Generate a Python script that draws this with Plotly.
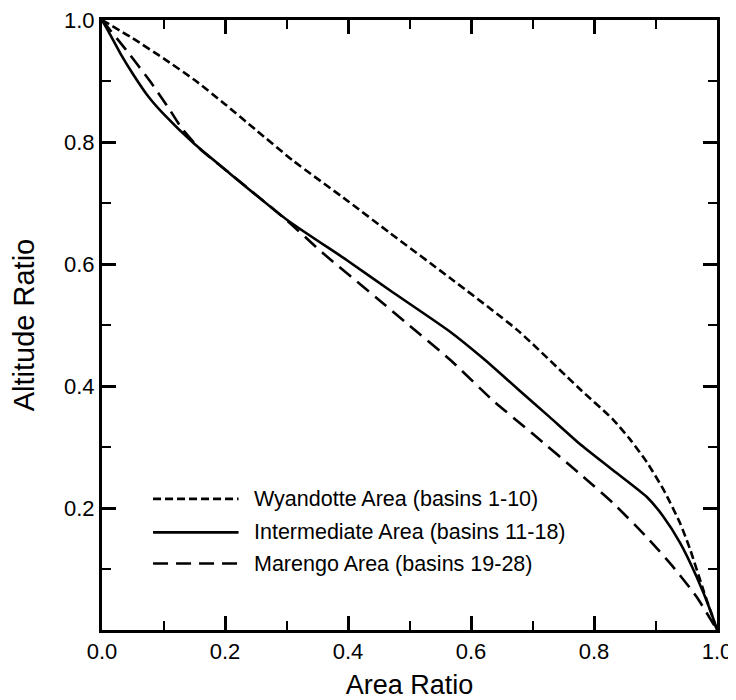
import plotly.graph_objects as go

# Wyandotte Area (basins 1-10)
wy_x = [0.0, 0.05, 0.10, 0.15, 0.20, 0.25, 0.31, 0.40, 0.468, 0.566, 0.675, 0.777, 0.831, 0.859, 0.886, 0.913, 0.940, 0.956, 0.978, 1.0]
wy_y = [1.0, 0.970, 0.937, 0.902, 0.862, 0.820, 0.770, 0.703, 0.651, 0.577, 0.492, 0.395, 0.345, 0.312, 0.275, 0.230, 0.175, 0.133, 0.065, 0.0]

# Intermediate Area (basins 11-18)
im_x = [0.0, 0.01, 0.03, 0.05, 0.075, 0.10, 0.15, 0.20, 0.30, 0.40, 0.468, 0.566, 0.62, 0.675, 0.728, 0.777, 0.831, 0.886, 0.912, 0.94, 0.967, 0.99, 1.0]
im_y = [1.0, 0.982, 0.945, 0.912, 0.875, 0.846, 0.797, 0.755, 0.673, 0.605, 0.557, 0.489, 0.445, 0.396, 0.349, 0.305, 0.262, 0.218, 0.187, 0.143, 0.087, 0.030, 0.0]

# Marengo Area (basins 19-28)
mr_x = [0.0, 0.04, 0.08, 0.11, 0.13, 0.16, 0.20, 0.30, 0.359, 0.447, 0.50, 0.566, 0.636, 0.70, 0.777, 0.831, 0.886, 0.929, 0.967, 1.0]
mr_y = [1.0, 0.950, 0.897, 0.853, 0.822, 0.788, 0.755, 0.672, 0.618, 0.544, 0.499, 0.443, 0.376, 0.322, 0.256, 0.208, 0.152, 0.103, 0.054, 0.0]

series_names = ["Wyandotte Area (basins 1-10)", "Intermediate Area (basins 11-18)", "Marengo Area (basins 19-28)"]
dashes = ["8px,4px", "solid", "15px,8px"]

x_tickvals = [0.0, 0.2, 0.4, 0.6, 0.8, 1.0]
x_ticktext = ["0.0", "0.2", "0.4", "0.6", "0.8", "1.0"]
y_tickvals = [0.2, 0.4, 0.6, 0.8, 1.0]
y_ticktext = ["0.2", "0.4", "0.6", "0.8", "1.0"]

FONT = "Liberation Sans, Arial, sans-serif"

fig = go.Figure()
for xs, ys, name, dash in zip([wy_x, im_x, mr_x], [wy_y, im_y, mr_y], series_names, dashes):
    fig.add_trace(go.Scatter(x=xs, y=ys, mode="lines", name=name,
                             line=dict(color="black", width=2.6, dash=dash, shape="spline", smoothing=0.6),
                             showlegend=False))

# custom legend with long line samples
leg_y = [0.215, 0.160, 0.109]
for name, dash, ly in zip(series_names, dashes, leg_y):
    fig.add_shape(type="line", xref="x", yref="y", x0=0.083, x1=0.222, y0=ly, y1=ly,
                  line=dict(color="black", width=2.6, dash=dash))
    fig.add_annotation(xref="x", yref="y", x=0.244, y=ly, text=name, showarrow=False,
                       xanchor="left", yanchor="middle", font=dict(family=FONT, size=21.5, color="black"))

axis_common = dict(range=[0, 1], showline=True, linecolor="black", linewidth=3, mirror="ticks",
                   ticks="inside", ticklen=14, tickwidth=2.5, tickcolor="black",
                   showgrid=False, zeroline=False, automargin=False, ticklabeloverflow="allow",
                   minor=dict(ticks="inside", ticklen=9, tickwidth=2, tickcolor="black", dtick=0.1, showgrid=False),
                   tickfont=dict(family=FONT, size=22, color="black"))

fig.update_xaxes(**axis_common, tickvals=x_tickvals, ticktext=x_ticktext,
                 title=dict(text="Area Ratio", font=dict(family=FONT, size=27, color="black"), standoff=14))
fig.update_yaxes(**axis_common, tickvals=y_tickvals, ticktext=y_ticktext,
                 title=dict(text="Altitude Ratio", font=dict(family=FONT, size=29, color="black"), standoff=22))

# page body has an 8px default margin, so the figure is offset by 8px
fig.update_layout(width=728, height=692, margin=dict(l=94, r=19, t=12, b=70),
                  plot_bgcolor="white", paper_bgcolor="white", showlegend=False)

fig.write_html("out.html")
